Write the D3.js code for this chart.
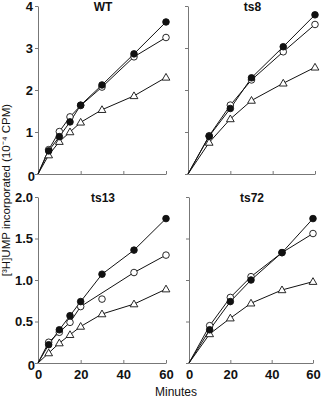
<!DOCTYPE html>
<html><head><meta charset="utf-8">
<script src="https://cdn.jsdelivr.net/npm/d3@7"></script>
<style>body{margin:0;background:#fff}svg{display:block}</style>
</head><body>
<svg id="c" width="322" height="400"></svg>
<script>
const xTicks = [0, 20, 40, 60];
const topYTicks = [0, 1, 2, 3, 4];
const botYTicks = [0, 0.5, 1.0, 1.5, 2.0];
const topYLabels = ["0", "1", "2", "3", "4"];
const botYLabels = ["0", "0.5", "1.0", "1.5", "2.0"];

const wtTimes = [0, 5, 10, 15, 20, 30, 45, 60];
const wtFilled = [0, 0.55, 0.89, 1.24, 1.64, 2.12, 2.86, 3.62];
const wtOpen = [0, 0.58, 1.01, 1.36, 1.63, 2.07, 2.79, 3.25];
const wtTri = [0, 0.45, 0.77, 1.0, 1.23, 1.53, 1.86, 2.30];

const ts8Times = [0, 10, 20, 30, 45, 60];
const ts8Filled = [0, 0.90, 1.56, 2.29, 3.03, 3.79];
const ts8Open = [0, 0.91, 1.64, 2.24, 2.91, 3.56];
const ts8Tri = [0, 0.75, 1.31, 1.75, 2.16, 2.54];

const ts13Times = [0, 5, 10, 15, 20, 30, 45, 60];
const ts13Filled = [0, 0.22, 0.40, 0.57, 0.74, 1.07, 1.36, 1.74];
const ts13Open = [0, 0.25, 0.37, 0.49, 0.68, 0.77, 1.09, 1.30];
const ts13Tri = [0, 0.12, 0.24, 0.34, 0.44, 0.59, 0.71, 0.89];
const ts13OpenOffLine = [30]; // plotted point not joined by the line

const ts72Times = [0, 10, 20, 30, 45, 60];
const ts72Filled = [0, 0.40, 0.74, 1.00, 1.33, 1.74];
const ts72Open = [0, 0.45, 0.79, 1.04, 1.33, 1.56];
const ts72Tri = [0, 0.35, 0.54, 0.72, 0.88, 0.98];

const panels = [
  {title: "WT", times: wtTimes, filled: wtFilled, open: wtOpen, tri: wtTri, skip: [],
   x: [38, 166], y: [174, 6], dom: 4, yt: topYTicks, yl: topYLabels, showY: true, showX: false},
  {title: "ts8", times: ts8Times, filled: ts8Filled, open: ts8Open, tri: ts8Tri, skip: [],
   x: [188, 315], y: [174, 6], dom: 4, yt: topYTicks, yl: topYLabels, showY: false, showX: false},
  {title: "ts13", times: ts13Times, filled: ts13Filled, open: ts13Open, tri: ts13Tri, skip: ts13OpenOffLine,
   x: [38, 166], y: [363, 197], dom: 2, yt: botYTicks, yl: botYLabels, showY: true, showX: true},
  {title: "ts72", times: ts72Times, filled: ts72Filled, open: ts72Open, tri: ts72Tri, skip: [],
   x: [189, 313], y: [363, 197], dom: 2, yt: botYTicks, yl: botYLabels, showY: false, showX: true}
];

const svg = d3.select("#c");
const font = "Liberation Sans, Arial, Helvetica, sans-serif";
const axisCol = "#777";

panels.forEach(p => {
  const x = d3.scaleLinear().domain([0, 60]).range(p.x);
  const y = d3.scaleLinear().domain([0, p.dom]).range(p.y);
  const g = svg.append("g");

  const xa = g.append("g").attr("transform", `translate(0,${p.y[0]})`)
    .call(d3.axisBottom(x).tickValues(xTicks).tickSizeInner(-3).tickSizeOuter(0).tickFormat(p.showX ? d3.format("d") : ""));
  xa.select(".domain").attr("stroke", axisCol);
  xa.selectAll(".tick line").attr("stroke", axisCol);
  xa.selectAll(".tick text").attr("font-family", font).attr("font-size", 13).attr("font-weight", "bold")
    .attr("fill", "#111").attr("dy", "0.9em").attr("y", 4);

  const ya = g.append("g").attr("transform", `translate(${p.x[0]},0)`)
    .call(d3.axisLeft(y).tickValues(p.yt).tickSizeInner(3).tickSizeOuter(0)
      .tickFormat((d, i) => p.showY ? p.yl[i] : ""));
  ya.select(".domain").attr("stroke", axisCol);
  ya.selectAll(".tick line").attr("stroke", axisCol);
  ya.selectAll(".tick text").attr("font-family", font).attr("font-size", 13).attr("font-weight", "bold")
    .attr("fill", "#111").attr("x", d => (d === 0 ? -3 : -5));
  if (p.showY) ya.selectAll(".tick text").filter(d => d === 0).attr("dy", "0.5em");

  g.append("text").attr("x", (p.x[0] + p.x[1]) / 2 + 1).attr("y", p.y[1] + 5)
    .attr("text-anchor", "middle").attr("font-family", font).attr("font-size", 12)
    .attr("font-weight", "bold").attr("fill", "#111").text(p.title);

  const line = d3.line().x(d => x(d.t)).y(d => y(d.v));
  const mk = arr => p.times.map((t, i) => ({t, v: arr[i]}));
  const series = [
    {d: mk(p.tri), kind: "tri"},
    {d: mk(p.open), kind: "open"},
    {d: mk(p.filled), kind: "filled"}
  ];
  series.forEach(s => {
    const ld = s.kind === "open" ? s.d.filter(d => !p.skip.includes(d.t)) : s.d;
    g.append("path").attr("d", line(ld)).attr("fill", "none").attr("stroke", "#111").attr("stroke-width", 1);
  });
  series.forEach(s => {
    const pts = s.d.filter(d => d.t > 0);
    if (s.kind === "tri") {
      g.selectAll(null).data(pts).enter().append("path")
        .attr("d", d3.symbol().type(d3.symbolTriangle).size(26))
        .attr("transform", d => `translate(${x(d.t)},${y(d.v) + 0.5})`)
        .attr("fill", "#fff").attr("stroke", "#111").attr("stroke-width", 0.9);
    } else {
      g.selectAll(null).data(pts).enter().append("circle")
        .attr("cx", d => x(d.t)).attr("cy", d => y(d.v)).attr("r", 3.3)
        .attr("fill", s.kind === "filled" ? "#111" : "#fff")
        .attr("stroke", "#111").attr("stroke-width", 0.9);
    }
  });
});

svg.append("text").attr("x", 176).attr("y", 396).attr("text-anchor", "middle")
  .attr("font-family", font).attr("font-size", 12).attr("fill", "#111").text("Minutes");

svg.append("text").attr("transform", "translate(10,190) rotate(-90)").attr("text-anchor", "middle")
  .attr("font-family", font).attr("font-size", 11.5).attr("fill", "#111")
  .text("[³H]UMP incorporated (10⁻⁴ CPM)");
</script>
</body></html>
